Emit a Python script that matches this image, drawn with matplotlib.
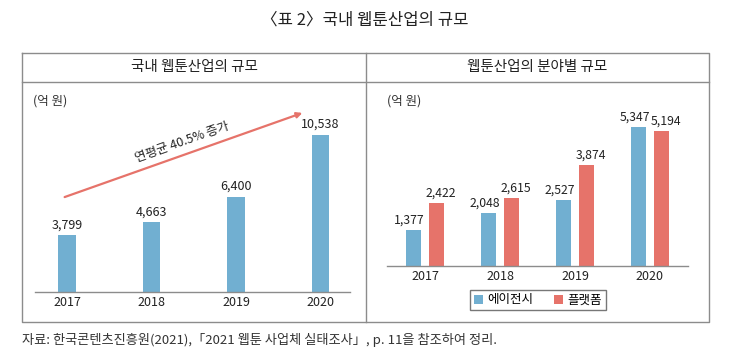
import matplotlib
matplotlib.use('Agg')
import matplotlib.pyplot as plt

plt.rcParams['font.family'] = ['Noto Sans CJK KR', 'DejaVu Sans']

# data
years = ['2017', '2018', '2019', '2020']
total = [3799, 4663, 6400, 10538]
agency = [1377, 2048, 2527, 5347]     # 에이전시
platform = [2422, 2615, 3874, 5194]   # 플랫폼

blue = '#71AFD1'
red = '#E6736A'
grey = '#8c8c8c'

W, H = 730, 356
fig = plt.figure(figsize=(W / 100, H / 100), dpi=100)

# background axes in pixel coords for table frame and texts
bg = fig.add_axes([0, 0, 1, 1])
bg.set_xlim(0, W)
bg.set_ylim(H, 0)
bg.axis('off')

bg.text(365, 20, '〈표 2〉국내 웹툰산업의 규모', ha='center', va='center', fontsize=12, color='#222222')

# table frame
L, R, T, B, M, HD = 22, 709, 53, 322, 366, 82
bg.plot([L, R, R, L, L], [T, T, B, B, T], color=grey, lw=1)
bg.plot([L, R], [HD, HD], color=grey, lw=1)
bg.plot([M, M], [T, B], color=grey, lw=1)
bg.text((L + M) / 2, 67, '국내 웹툰산업의 규모', ha='center', va='center', fontsize=10.5, color='#222222')
bg.text((M + R) / 2, 67, '웹툰산업의 분야별 규모', ha='center', va='center', fontsize=10.5, color='#222222')
bg.text(33, 101, '(억 원)', ha='left', va='center', fontsize=9, color='#333333')
bg.text(387, 101, '(억 원)', ha='left', va='center', fontsize=9, color='#333333')

bg.text(22, 340, '자료: 한국콘텐츠진흥원(2021),「2021 웹툰 사업체 실태조사」, p. 11을 참조하여 정리.',
        ha='left', va='center', fontsize=9.5, color='#333333')


def px_axes(x0, x1, ytop, ybot):
    return fig.add_axes([x0 / W, 1 - ybot / H, (x1 - x0) / W, (ybot - ytop) / H])


def style(ax):
    for s in ['top', 'right', 'left']:
        ax.spines[s].set_visible(False)
    ax.spines['bottom'].set_color(grey)
    ax.spines['bottom'].set_linewidth(1)
    ax.set_yticks([])
    ax.tick_params(axis='x', length=0, labelsize=9, pad=3, colors='#222222')
    ax.patch.set_alpha(0)


# left chart
ax1 = px_axes(35, 350, 110, 292)
x = range(len(years))
ax1.bar(x, total, width=0.21, color=blue)
for i, v in enumerate(total):
    ax1.text(i, v + 250, f'{v:,}', ha='center', va='bottom', fontsize=9, color='#222222')
ax1.set_xticks(list(x))
ax1.set_xticklabels(years)
ax1.set_xlim(-0.38, 3.35)
ax1.set_ylim(0, 12200)
style(ax1)

bg.annotate('', xy=(305, 112), xytext=(62, 198),
            arrowprops=dict(arrowstyle='-|>', color=red, lw=1.6, mutation_scale=8))
bg.text(182, 142, '연평균 40.5% 증가', ha='center', va='center', rotation=19.5,
        fontsize=9, color='#222222')

# right chart
ax2 = px_axes(387, 688, 110, 266)
off = 0.147
bw = 0.2
ax2.bar([i - off for i in x], agency, width=bw, color=blue, label='에이전시')
ax2.bar([i + off for i in x], platform, width=bw, color=red, label='플랫폼')
for i in x:
    ax2.text(i - off - 0.06, agency[i] + 120, f'{agency[i]:,}', ha='center', va='bottom', fontsize=8.8, color='#222222')
    ax2.text(i + off + 0.06, platform[i] + 120, f'{platform[i]:,}', ha='center', va='bottom', fontsize=8.8, color='#222222')
ax2.set_xticks(list(x))
ax2.set_xticklabels(years)
ax2.set_xlim(-0.507, 3.507)
ax2.set_ylim(0, 5990)
style(ax2)

leg = ax2.legend(loc='center', bbox_to_anchor=(538 / W, 1 - 300 / H), bbox_transform=fig.transFigure,
                 ncol=2, fontsize=9, frameon=True, fancybox=False, handlelength=0.7, handleheight=0.7,
                 handletextpad=0.4, columnspacing=1.6, borderpad=0.3)
leg.get_frame().set_edgecolor('#555555')
leg.get_frame().set_linewidth(1)

fig.savefig('out.png', dpi=100)
